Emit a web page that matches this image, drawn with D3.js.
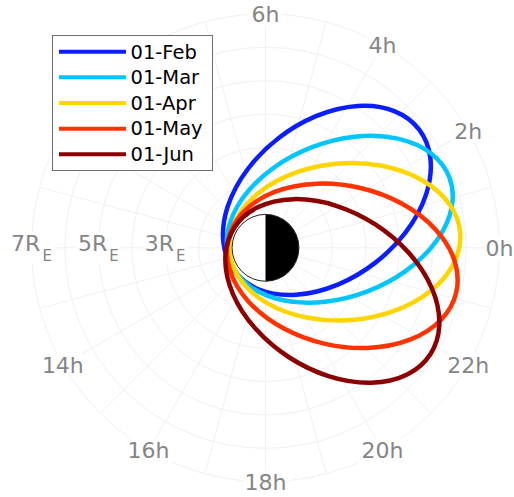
<!DOCTYPE html>
<html>
<head>
<meta charset="utf-8">
<script src="https://cdn.jsdelivr.net/npm/d3@7"></script>
<style>
  html, body { margin: 0; padding: 0; background: #fff; }
  svg { display: block; font-family: "DejaVu Sans", sans-serif; }
</style>
</head>
<body>
<svg id="chart" width="514" height="497"></svg>
<script>
// Orbit snapshots (equatorial projection), one per date
const dates      = ["01-Feb", "01-Mar", "01-Apr", "01-May", "01-Jun"];
const apogeeMLT  = [2.51, 1.40, 0.29, 23.12, 21.81];   // local time of apogee, hours
const apogeeRE   = [5.80, 5.89, 5.84, 5.86, 5.87];     // apogee distance, Earth radii
const perigeeRE  = [1.16, 1.13, 1.08, 1.14, 1.11];     // perigee distance, Earth radii
const minorRE    = [2.36, 2.31, 2.35, 2.39, 2.37];     // semi-minor axis, Earth radii
const colors     = ["#0a1eff", "#00c5ff", "#ffd500", "#ff3300", "#8b0000"];

// Polar grid and labels
const gridRadii   = [1, 2, 3, 4, 5, 6, 7];
const gridHours   = [0,1,2,3,4,5,6,7,8,9,10,11,12,13,14,15,16,17,18,19,20,21,22,23];
const hourLabels  = [0, 2, 4, 6, 14, 16, 18, 20, 22];
const radiusLabels = [3, 5, 7];

const svg = d3.select("#chart");
const cx0 = 265.5, cy0 = 247.8;
const r = d3.scaleLinear().domain([0, 7]).range([0, 234]);
const theta = d3.scaleLinear().domain([0, 24]).range([0, 2 * Math.PI]);
const px = (rv, h) => cx0 + r(rv) * Math.cos(theta(h));
const py = (rv, h) => cy0 - r(rv) * Math.sin(theta(h));

const gridColor = "#f1f1f1";
const grid = svg.append("g");
grid.selectAll("circle").data(gridRadii).join("circle")
  .attr("cx", cx0).attr("cy", cy0).attr("r", d => r(d))
  .attr("fill", "none").attr("stroke", gridColor).attr("stroke-width", 1);
grid.selectAll("line").data(gridHours).join("line")
  .attr("x1", cx0).attr("y1", cy0)
  .attr("x2", d => px(7, d)).attr("y2", d => py(7, d))
  .attr("stroke", gridColor).attr("stroke-width", 1);

// Labels sit on a white patch that interrupts the grid
const labelColor = "#858585";
function backed(g) {
  g.each(function () {
    const t = d3.select(this).select("text");
    const b = t.node().getBBox();
    d3.select(this).insert("rect", "text")
      .attr("x", b.x - 2).attr("y", b.y + 1)
      .attr("width", b.width + 4).attr("height", b.height - 2)
      .attr("fill", "#fff");
  });
}

const hourG = svg.append("g").selectAll("g").data(hourLabels).join("g");
hourG.append("text")
  .attr("x", d => px(7, d)).attr("y", d => py(7, d))
  .attr("dy", "0.36em")
  .attr("text-anchor", "middle")
  .attr("font-size", 22).attr("fill", labelColor)
  .text(d => d + "h");
backed(hourG);

const radG = svg.append("g").selectAll("g").data(radiusLabels).join("g");
const radT = radG.append("text")
  .attr("x", d => px(d, 12)).attr("y", d => py(d, 12) + 3.5)
  .attr("text-anchor", "middle")
  .attr("font-size", 22).attr("fill", labelColor);
radT.append("tspan").text(d => d + "R");
radT.append("tspan").attr("dx", 2).attr("dy", 10).attr("font-size", 15).text("E");
backed(radG);

// Orbits: ellipse centred along the apogee direction
const orbits = dates.map((d, i) => ({
  date: d,
  h: apogeeMLT[i],
  a: (apogeeRE[i] + perigeeRE[i]) / 2,
  c: (apogeeRE[i] - perigeeRE[i]) / 2,
  b: minorRE[i],
  color: colors[i]
}));

svg.append("g").selectAll("ellipse").data(orbits).join("ellipse")
  .attr("cx", d => px(d.c, d.h)).attr("cy", d => py(d.c, d.h))
  .attr("rx", d => r(d.a)).attr("ry", d => r(d.b))
  .attr("transform", d => `rotate(${-d.h * 15}, ${px(d.c, d.h)}, ${py(d.c, d.h)})`)
  .attr("fill", "none").attr("stroke", d => d.color).attr("stroke-width", 4.5);

// Earth: dayside (12h, left) white, nightside black
const earth = svg.append("g").attr("transform", `translate(${cx0},${cy0})`);
earth.append("circle").attr("r", r(1)).attr("fill", "#fff");
earth.append("path")
  .attr("d", d3.arc()({ innerRadius: 0, outerRadius: r(1), startAngle: 0, endAngle: Math.PI }))
  .attr("fill", "#000");
earth.append("circle").attr("r", r(1)).attr("fill", "none")
  .attr("stroke", "#222").attr("stroke-width", 1);

// Legend
const lg = svg.append("g");
lg.append("rect").attr("x", 52.5).attr("y", 35.5).attr("width", 160).attr("height", 135)
  .attr("fill", "#fff").attr("stroke", "#6e6e6e").attr("stroke-width", 1);
const rows = lg.selectAll("g").data(orbits).join("g")
  .attr("transform", (d, i) => `translate(0, ${51.7 + i * 25.65})`);
rows.append("line").attr("x1", 59).attr("x2", 126)
  .attr("stroke", d => d.color).attr("stroke-width", 4);
rows.append("text").attr("x", 130.5).attr("dy", "0.35em")
  .attr("font-size", 19.5).attr("fill", "#000")
  .text(d => d.date);
</script>
</body>
</html>
